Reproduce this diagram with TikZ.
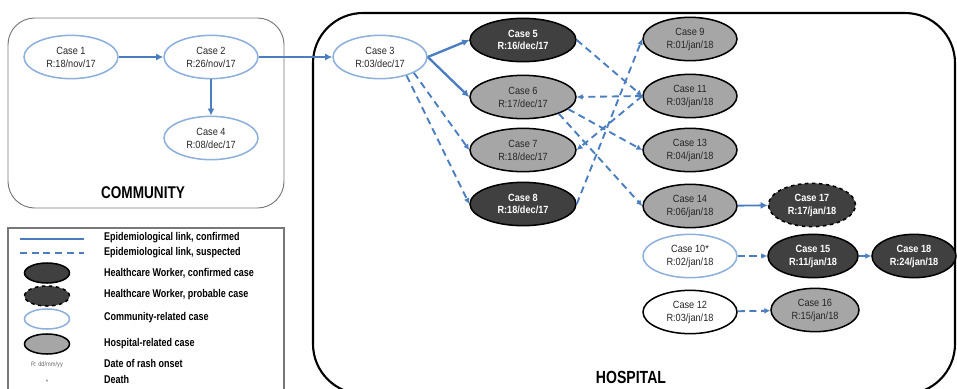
\documentclass[tikz,border=0pt]{standalone}
\usepackage{fontspec}
\setmainfont[FakeStretch=0.88]{Liberation Sans}
\newfontfamily\narrowfont[FakeStretch=0.8]{Liberation Sans}
\usetikzlibrary{shapes.geometric,arrows.meta}
\definecolor{linkblue}{RGB}{74,126,193}
\definecolor{commblue}{RGB}{141,176,221}
\definecolor{hcwdark}{RGB}{64,64,64}
\definecolor{hospgray}{RGB}{166,166,166}
\definecolor{boxgray}{RGB}{120,120,120}
\begin{document}
\begin{tikzpicture}[x=0.03cm,y=-0.03cm,
  case/.style={ellipse,inner sep=0pt,minimum width=2.82cm,minimum height=1.3cm,align=center,
    font=\fontsize{8.9}{11}\selectfont,line width=1.3pt},
  comm/.style={case,draw=commblue,fill=white,text=black!85},
  hosp/.style={case,draw=black,fill=hospgray,text=black!85},
  hcw/.style={case,draw=black,fill=hcwdark,text=white,font=\fontsize{8.9}{11}\selectfont\bfseries},
  other/.style={case,draw=black,fill=white,text=black!85},
  conf/.style={linkblue,line width=2pt,-{Latex[length=6pt,width=6pt]}},
  susp/.style={linkblue,line width=1.6pt,dash pattern=on 6pt off 4pt,-{Latex[length=5pt,width=5pt]}},
  keyshape/.style={ellipse,inner sep=0pt,minimum width=1.35cm,minimum height=0.6cm,line width=1.3pt},
  keytext/.style={anchor=west,font=\narrowfont\fontsize{9.6}{10}\selectfont\bfseries},
  boxlabel/.style={font=\narrowfont\fontsize{14.5}{16}\selectfont\bfseries}]
\useasboundingbox (0,0) rectangle (957,388);
\draw[boxgray,line width=0.8pt,rounded corners=0.8cm] (8,18) rectangle (284,208);
\draw[black,line width=1.8pt,rounded corners=1.5cm] (313,13) rectangle (955,394);
\draw[boxgray,line width=1.5pt] (8,228) rectangle (284,400);
\node[boxlabel] (community) at (143,193) {COMMUNITY};
\node[boxlabel,font=\narrowfont\fontsize{15}{16}\selectfont\bfseries] (hospital) at (631,377) {HOSPITAL};
\node[comm] (c1) at (71,57) {Case 1\\R:18/nov/17};
\node[comm] (c2) at (211,57) {Case 2\\R:26/nov/17};
\node[comm] (c4) at (211,138) {Case 4\\R:08/dec/17};
\node[comm] (c3) at (380,57) {Case 3\\R:03/dec/17};
\node[hcw,minimum width=3.18cm] (c5) at (523,40) {Case 5\\R:16/dec/17};
\node[hosp,minimum width=3.18cm] (c6) at (523,97) {Case 6\\R:17/dec/17};
\node[hosp,minimum width=3.18cm] (c7) at (523,150) {Case 7\\R:18/dec/17};
\node[hcw,minimum width=3.18cm] (c8) at (523,204) {Case 8\\R:18/dec/17};
\node[hosp] (c9) at (690,39) {Case 9\\R:01/jan/18};
\node[hosp] (c11) at (690,96) {Case 11\\R:03/jan/18};
\node[hosp] (c13) at (690,150) {Case 13\\R:04/jan/18};
\node[hosp] (c14) at (690,206) {Case 14\\R:06/jan/18};
\node[hcw,dashed,minimum width=2.61cm] (c17) at (812,205) {Case 17\\R:17/jan/18};
\node[comm] (c10) at (690,256) {Case 10*\\R:02/jan/18};
\node[hcw,minimum width=2.7cm] (c15) at (813,256) {Case 15\\R:11/jan/18};
\node[hcw,minimum width=2.52cm] (c18) at (914,256) {Case 18\\R:24/jan/18};
\node[other] (c12) at (690,312) {Case 12\\R:03/jan/18};
\node[hosp,minimum width=2.64cm] (c16) at (815,310) {Case 16\\R:15/jan/18};
\draw[conf] (c1) -- (c2);
\draw[conf] (c2) -- (c4);
\draw[conf] (c2) -- (c3);
\draw[conf] (c3.east) -- (c5.west);
\draw[conf] (c3.east) -- (c6.west);
\draw[susp] (c3.-25) -- (c7.west);
\draw[susp] (c3.-35) -- (c8.west);
\draw[susp] (c5.east) -- (c11.west);
\draw[susp] (c11.west) -- (c6.east);
\draw[susp] (c11.west) -- (c7.east);
\draw[susp] (c8.east) -- (c9.west);
\draw[susp] (c6.-15) -- (c13.west);
\draw[susp] (c6.-25) -- (c14.west);
\draw[conf,line width=1.6pt] (c14) -- (c17);
\draw[susp] (c10) -- (c15);
\draw[susp] (c15) -- (c18);
\draw[susp] (c12) -- (c16);
\coordinate (confa) at (20,239);
\coordinate (confb) at (84,239);
\coordinate (suspa) at (20,253);
\coordinate (suspb) at (84,253);
\draw[linkblue,line width=1.5pt] (confa) -- (confb);
\draw[linkblue,line width=1.5pt,dash pattern=on 6pt off 4pt] (suspa) -- (suspb);
\node[keyshape,draw=black,fill=hcwdark] (khcw) at (47,273) {};
\node[keyshape,draw=black,fill=hcwdark,dashed] (kprob) at (47,296) {};
\node[keyshape,draw=commblue,fill=white] (kcomm) at (47,319) {};
\node[keyshape,draw=black,fill=hospgray] (khosp) at (47,344) {};
\node[font=\fontsize{5.5}{6}\selectfont,text=black!60] (kdate) at (47,365) {R: dd/mm/yy};
\node[font=\fontsize{6}{6}\selectfont,text=black!60] (kdeath) at (47,382) {*};
\node[keytext] at (100,238) {Epidemiological link, confirmed};
\node[keytext] at (100,253) {Epidemiological link, suspected};
\node[keytext] at (100,273) {Healthcare Worker, confirmed case};
\node[keytext] at (100,295) {Healthcare Worker, probable case};
\node[keytext] at (100,318) {Community-related case};
\node[keytext] at (100,344) {Hospital-related case};
\node[keytext] at (100,363) {Date of rash onset};
\node[keytext] at (100,379) {Death};
\end{tikzpicture}
\end{document}
